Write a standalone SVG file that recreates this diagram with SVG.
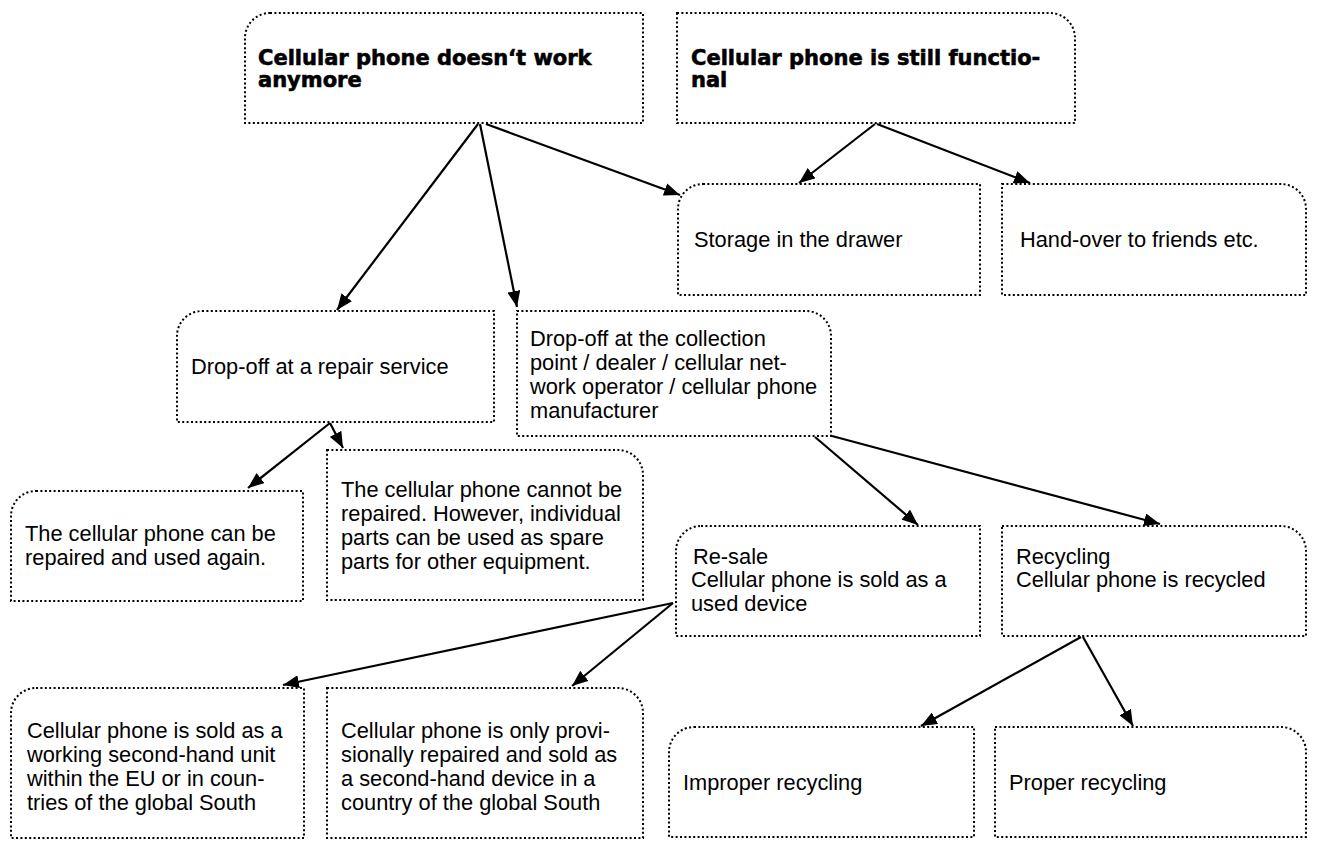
<svg xmlns="http://www.w3.org/2000/svg" width="1325" height="854" viewBox="0 0 1325 854">
<style>
.box{fill:#fff;stroke:#000;stroke-width:2;stroke-dasharray:2 2.4}
.t{font-family:"Liberation Sans",Arial,sans-serif;font-size:21.8px;fill:#000}
.b{font-family:"DejaVu Sans","Liberation Sans",sans-serif;font-weight:bold;font-size:21px;fill:#000;stroke:#000;stroke-width:0.6}
.c{stroke:#000;stroke-width:2.2;fill:none;marker-end:url(#ah)}
</style>
<defs>
<marker id="ah" markerUnits="userSpaceOnUse" markerWidth="17" markerHeight="13" refX="16" refY="6.5" orient="auto">
<path d="M0,0 L16,6.5 L0,13 z" fill="#000"/>
</marker>
</defs>
<rect width="1325" height="854" fill="#fff"/>
<g id="n-broken">
<path class="box" d="M270,13 H643 V123 H245 V38 A25,25 0 0 1 270,13 Z"/>
<text class="b" x="258" y="65">Cellular phone doesn‘t work</text>
<text class="b" x="258" y="87">anymore</text>
</g>
<g id="n-functional">
<path class="box" d="M677,13 H1050 A25,25 0 0 1 1075,38 V123 H677 Z"/>
<text class="b" x="691" y="65">Cellular phone is still functio-</text>
<text class="b" x="691" y="87">nal</text>
</g>
<g id="n-storage">
<path class="box" d="M703,184 H980 V295 H678 V209 A25,25 0 0 1 703,184 Z"/>
<text class="t" x="694" y="247">Storage in the drawer</text>
</g>
<g id="n-handover">
<path class="box" d="M1002,184 H1281 A25,25 0 0 1 1306,209 V295 H1002 Z"/>
<text class="t" x="1020" y="247">Hand-over to friends etc.</text>
</g>
<g id="n-repair">
<path class="box" d="M202,311 H494 V422 H177 V336 A25,25 0 0 1 202,311 Z"/>
<text class="t" x="191" y="374">Drop-off at a repair service</text>
</g>
<g id="n-collection">
<path class="box" d="M517,311 H806 A25,25 0 0 1 831,336 V436 H517 Z"/>
<text class="t" x="530" y="346">Drop-off at the collection</text>
<text class="t" x="530" y="370">point / dealer / cellular net-</text>
<text class="t" x="530" y="394">work operator / cellular phone</text>
<text class="t" x="530" y="418">manufacturer</text>
</g>
<g id="n-repaired">
<path class="box" d="M36,491 H303 V601 H11 V516 A25,25 0 0 1 36,491 Z"/>
<text class="t" x="25" y="541">The cellular phone can be</text>
<text class="t" x="25" y="565">repaired and used again.</text>
</g>
<g id="n-cannot">
<path class="box" d="M327,450 H618 A25,25 0 0 1 643,475 V600 H327 Z"/>
<text class="t" x="341" y="497">The cellular phone cannot be</text>
<text class="t" x="341" y="521">repaired. However, individual</text>
<text class="t" x="341" y="545">parts can be used as spare</text>
<text class="t" x="341" y="569">parts for other equipment.</text>
</g>
<g id="n-resale">
<path class="box" d="M701,526 H980 V636 H676 V551 A25,25 0 0 1 701,526 Z"/>
<text class="t" x="693" y="564">Re-sale</text>
<text class="t" x="691" y="587">Cellular phone is sold as a</text>
<text class="t" x="691" y="611">used device</text>
</g>
<g id="n-recycling">
<path class="box" d="M1002,526 H1281 A25,25 0 0 1 1306,551 V636 H1002 Z"/>
<text class="t" x="1016" y="564">Recycling</text>
<text class="t" x="1016" y="587">Cellular phone is recycled</text>
</g>
<g id="n-sold">
<path class="box" d="M36,688 H304 V838 H11 V713 A25,25 0 0 1 36,688 Z"/>
<text class="t" x="27" y="738">Cellular phone is sold as a</text>
<text class="t" x="27" y="762">working second-hand unit</text>
<text class="t" x="27" y="786">within the EU or in coun-</text>
<text class="t" x="27" y="810">tries of the global South</text>
</g>
<g id="n-provisional">
<path class="box" d="M327,688 H618 A25,25 0 0 1 643,713 V838 H327 Z"/>
<text class="t" x="341" y="738">Cellular phone is only provi-</text>
<text class="t" x="341" y="762">sionally repaired and sold as</text>
<text class="t" x="341" y="786">a second-hand device in a</text>
<text class="t" x="341" y="810">country of the global South</text>
</g>
<g id="n-improper">
<path class="box" d="M694,727 H974 V837 H669 V752 A25,25 0 0 1 694,727 Z"/>
<text class="t" x="683" y="790">Improper recycling</text>
</g>
<g id="n-proper">
<path class="box" d="M995,727 H1281 A25,25 0 0 1 1306,752 V837 H995 Z"/>
<text class="t" x="1009" y="790">Proper recycling</text>
</g>
<g id="connectors">
<line class="c" x1="478" y1="124" x2="337" y2="310"/>
<line class="c" x1="480" y1="124" x2="517" y2="307"/>
<line class="c" x1="486" y1="124" x2="680" y2="195"/>
<line class="c" x1="875" y1="124" x2="799" y2="183"/>
<line class="c" x1="877" y1="124" x2="1030" y2="183"/>
<line class="c" x1="330" y1="423" x2="248" y2="488"/>
<line class="c" x1="330" y1="423" x2="343" y2="448"/>
<line class="c" x1="815" y1="437" x2="918" y2="525"/>
<line class="c" x1="832" y1="436" x2="1160" y2="524"/>
<line class="c" x1="673" y1="603" x2="283" y2="685"/>
<line class="c" x1="673" y1="603" x2="572" y2="686"/>
<line class="c" x1="1081" y1="637" x2="921" y2="726"/>
<line class="c" x1="1083" y1="637" x2="1133" y2="726"/>
</g>
</svg>
